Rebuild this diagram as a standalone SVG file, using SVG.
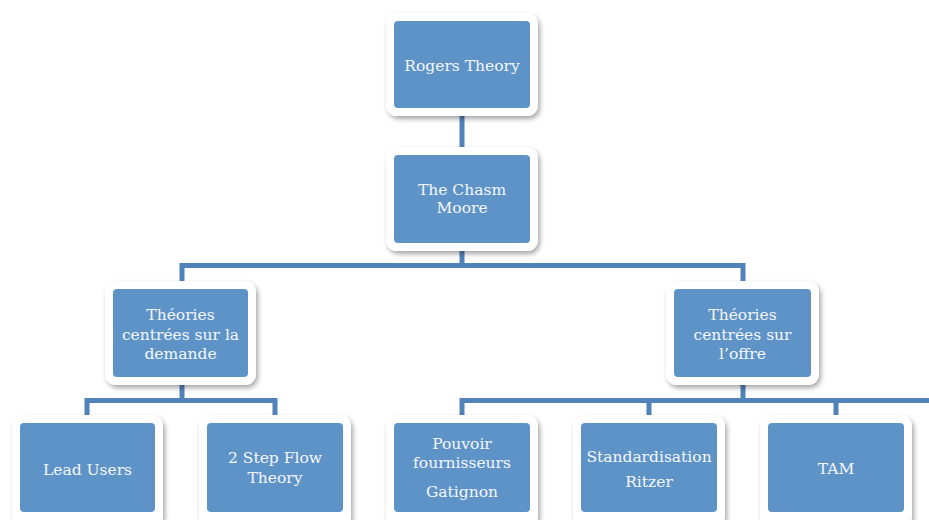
<svg xmlns="http://www.w3.org/2000/svg" width="929" height="520" viewBox="0 0 929 520">
<defs>
<filter id="sh" x="-20%" y="-20%" width="140%" height="140%">
<feDropShadow dx="2" dy="3" stdDeviation="2.5" flood-color="#000" flood-opacity="0.35"/>
</filter>
<style>
.frame{fill:#fff;filter:url(#sh)}
.box{fill:#5E93C8}
.t{font-family:"DejaVu Serif","Liberation Serif",serif;font-size:15.5px;fill:#F4F7FB;text-anchor:middle}
.c{stroke:#5182BA;stroke-width:5;fill:none;stroke-linecap:square}
</style>
</defs>
<rect width="929" height="520" fill="#fff"/>
<g id="connectors" class="c">
<path d="M462,114 V149"/>
<path d="M462,250 V265.5 M182,281 V265.5 H743 V281"/>
<path d="M182,385 V400.5 M87,414 V400.5 H275 V414"/>
<path d="M743,385 V400.5 M462,414 V400.5 H931 M649,414 V400.5 M836,414 V400.5"/>
</g>
<g id="n-rogers">
<rect class="frame" x="386" y="13" width="152" height="103" rx="11"/>
<rect class="box" x="394" y="21" width="136" height="87" rx="4"/>
<text class="t" x="462" y="71">Rogers Theory</text>
</g>
<g id="n-chasm">
<rect class="frame" x="386" y="147" width="152" height="104" rx="11"/>
<rect class="box" x="394" y="155" width="136" height="88" rx="4"/>
<text class="t" x="462" y="195">The Chasm</text>
<text class="t" x="462" y="213">Moore</text>
</g>
<g id="n-demande">
<rect class="frame" x="105" y="281" width="151" height="104" rx="11"/>
<rect class="box" x="113" y="289" width="135" height="88" rx="4"/>
<text class="t" x="180.5" y="320">Théories</text>
<text class="t" x="180.5" y="339.5">centrées sur la</text>
<text class="t" x="180.5" y="359">demande</text>
</g>
<g id="n-offre">
<rect class="frame" x="666" y="281" width="153" height="104" rx="11"/>
<rect class="box" x="674" y="289" width="137" height="88" rx="4"/>
<text class="t" x="742.5" y="320">Théories</text>
<text class="t" x="742.5" y="339.5">centrées sur</text>
<text class="t" x="742.5" y="359">l’offre</text>
</g>
<g id="n-lead">
<rect class="frame" x="12" y="415" width="151" height="112" rx="11"/>
<rect class="box" x="20" y="423" width="135" height="89" rx="4"/>
<text class="t" x="87.5" y="475">Lead Users</text>
</g>
<g id="n-2step">
<rect class="frame" x="199" y="415" width="152" height="112" rx="11"/>
<rect class="box" x="207" y="423" width="136" height="89" rx="4"/>
<text class="t" x="275" y="463">2 Step Flow</text>
<text class="t" x="275" y="483">Theory</text>
</g>
<g id="n-pouvoir">
<rect class="frame" x="386" y="415" width="152" height="112" rx="11"/>
<rect class="box" x="394" y="423" width="136" height="89" rx="4"/>
<text class="t" x="462" y="449">Pouvoir</text>
<text class="t" x="462" y="468">fournisseurs</text>
<text class="t" x="462" y="497">Gatignon</text>
</g>
<g id="n-standard">
<rect class="frame" x="573" y="415" width="152" height="112" rx="11"/>
<rect class="box" x="581" y="423" width="136" height="89" rx="4"/>
<text class="t" x="649" y="462">Standardisation</text>
<text class="t" x="649" y="487">Ritzer</text>
</g>
<g id="n-tam">
<rect class="frame" x="760" y="415" width="152" height="112" rx="11"/>
<rect class="box" x="768" y="423" width="136" height="89" rx="4"/>
<text class="t" x="836" y="474">TAM</text>
</g>
</svg>
